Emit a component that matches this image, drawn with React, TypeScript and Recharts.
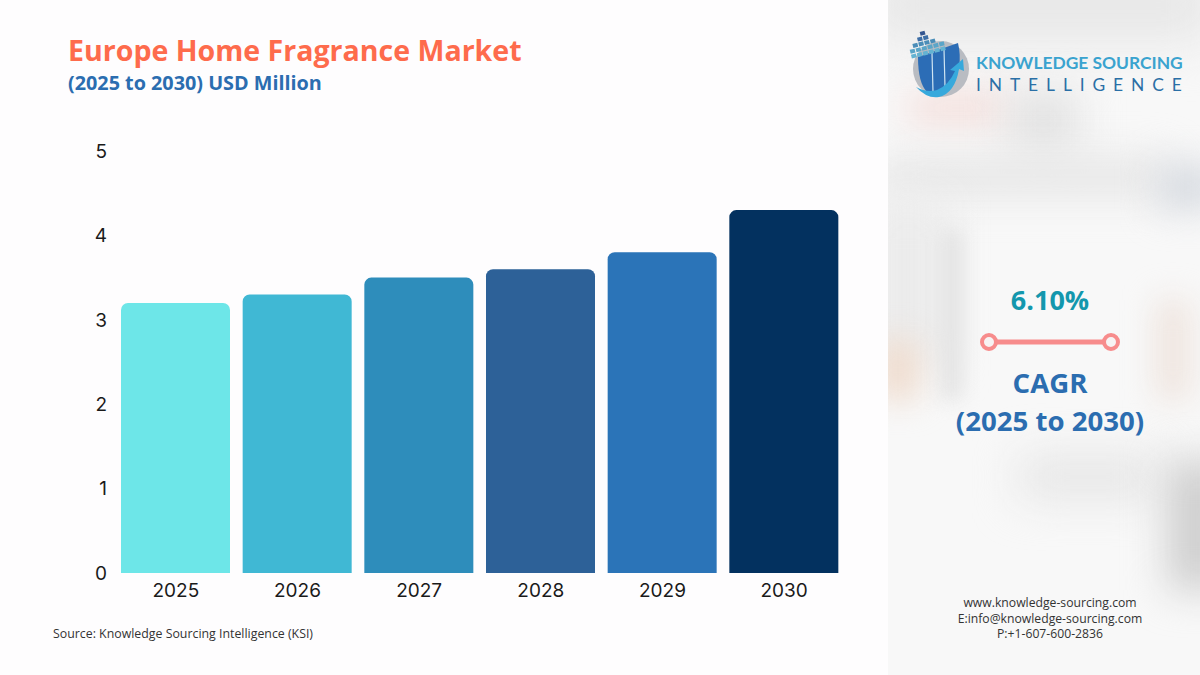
import { BarChart, Bar, Cell, XAxis, YAxis } from 'recharts';

const years = ['2025', '2026', '2027', '2028', '2029', '2030'];
const marketValues = [3.2, 3.3, 3.5, 3.6, 3.8, 4.3];
const barColors = ['#6de6e8', '#40b8d4', '#2e8dbb', '#2d6198', '#2b74b8', '#03315f'];
const yTicks = [0, 1, 2, 3, 4, 5];
const contactLines = ['www.knowledge-sourcing.com', 'E:info@knowledge-sourcing.com', 'P:+1-607-600-2836'];

const chartData = years.map((year, i) => ({ year, value: marketValues[i] }));

const FONT = '"Open Sans", "Noto Sans", sans-serif';
const TICK_FONT = 'Inter, "Open Sans", sans-serif';

function SidePanel() {
  const blobs = [
    { left: -20, top: -30, width: 350, height: 70, background: '#e6e6e6', blur: 26 },
    { left: 20, top: 95, width: 100, height: 26, background: '#f3d9d5', blur: 18 },
    { left: 120, top: 90, width: 70, height: 60, background: '#e2e2e2', blur: 20 },
    { left: -10, top: 160, width: 290, height: 34, background: '#e4e4e4', blur: 20 },
    { left: 270, top: 165, width: 60, height: 44, background: '#d6dae0', blur: 18 },
    { left: -20, top: 200, width: 80, height: 170, background: '#ebebeb', blur: 20 },
    { left: 55, top: 230, width: 18, height: 170, background: '#e0e0e0', blur: 10 },
    { left: -10, top: 340, width: 40, height: 60, background: '#f0dccd', blur: 16 },
    { left: 270, top: 300, width: 30, height: 100, background: '#ede1da', blur: 16 },
    { left: 130, top: 455, width: 140, height: 44, background: '#e6e6e6', blur: 22 },
    { left: 280, top: 460, width: 60, height: 130, background: '#cdcdcd', blur: 20 },
  ];
  return (
    <div style={{ position: 'absolute', left: 888, top: 0, width: 312, height: 675, overflow: 'hidden', background: '#f8f8f8' }}>
      {blobs.map(({ blur, ...b }, i) => (
        <div key={i} style={{ position: 'absolute', ...b, filter: `blur(${blur}px)` }} />
      ))}
    </div>
  );
}

const cubeRows = [
  { x: 18, y: 6, count: 1, fill: '#34558f' },
  { x: 14, y: 11, count: 2, fill: '#3d6ea6' },
  { x: 8, y: 16, count: 4, fill: '#4a8db8' },
  { x: 4, y: 21, count: 6, fill: '#5aa5c8' },
  { x: 4, y: 26, count: 6, fill: '#64b3d2' },
];

function Logo() {
  return (
    <svg style={{ position: 'absolute', left: 905, top: 25 }} width={90} height={78} viewBox="0 0 90 78">
      <circle cx="36" cy="44" r="28" fill="#b9bcc2" />
      <path d="M13 32 L53 18 Q59 44 45 60 Q36 68 22 67 Q13 58 13 32 Z" fill="#2c6db6" />
      <path d="M27 28 L28 67 M39 24 L40 62" stroke="#cfe4f2" strokeWidth={1.2} fill="none" />
      <g transform="rotate(-14 20 20)">
        {cubeRows.map((row) =>
          Array.from({ length: row.count }, (_, k) => (
            <rect key={`${row.y}-${k}`} x={row.x + k * 6} y={row.y} width={5} height={4} fill={row.fill} />
          )),
        )}
      </g>
      <path d="M11 62 Q22 74 34 72 Q50 68 54 44 L59 46 L58 34 L45 45 L50 46 Q44 60 32 65 Q22 68 11 62 Z" fill="#37a9dc" />
    </svg>
  );
}

export default function App() {
  return (
    <div style={{ position: 'absolute', left: 0, top: 0, width: 1200, height: 675, overflow: 'hidden', background: '#fefdfe' }}>
      <SidePanel />

      <BarChart
        width={888}
        height={675}
        data={chartData}
        margin={{ top: 151, right: 43, bottom: 72, left: 50 }}
        style={{ position: 'absolute', left: 0, top: 0 }}
      >
        <XAxis
          dataKey="year"
          height={30}
          axisLine={false}
          tickLine={false}
          tickMargin={5}
          tick={{ fontFamily: TICK_FONT, fontSize: 19, fill: '#1a1a1a' }}
        />
        <YAxis
          domain={[0, 5]}
          ticks={yTicks}
          width={65}
          axisLine={false}
          tickLine={false}
          tickMargin={2}
          tick={{ fontFamily: TICK_FONT, fontSize: 19, fill: '#1a1a1a' }}
        />
        <Bar dataKey="value" barSize={109} radius={[7, 7, 0, 0]} isAnimationActive={false}>
          {chartData.map((d, i) => (
            <Cell key={d.year} fill={barColors[i]} />
          ))}
        </Bar>
      </BarChart>

      <div style={{ position: 'absolute', left: 68, top: 30, fontFamily: FONT, fontWeight: 700, fontSize: 28.55, lineHeight: '40px', color: '#fe6b4c', whiteSpace: 'nowrap' }}>
        Europe Home Fragrance Market
      </div>
      <div style={{ position: 'absolute', left: 68, top: 69, fontFamily: FONT, fontWeight: 700, fontSize: 19.8, lineHeight: '28px', color: '#2b6db0', whiteSpace: 'nowrap' }}>
        (2025 to 2030) USD Million
      </div>
      <div style={{ position: 'absolute', left: 53, top: 625, fontFamily: FONT, fontSize: 12.35, lineHeight: '18px', color: '#333', whiteSpace: 'nowrap' }}>
        Source: Knowledge Sourcing Intelligence (KSI)
      </div>

      <Logo />
      <div style={{ position: 'absolute', left: 976, top: 52, fontFamily: 'Lato, sans-serif', fontWeight: 700, fontSize: 17.4, lineHeight: '21px', color: '#3aa3cf', whiteSpace: 'nowrap' }}>
        KNOWLEDGE SOURCING
      </div>
      <div style={{ position: 'absolute', left: 976, top: 74, fontFamily: 'Lato, sans-serif', fontSize: 17.4, lineHeight: '21px', letterSpacing: 7.9, color: '#2a6fa6', whiteSpace: 'nowrap' }}>
        INTELLIGENCE
      </div>

      <div style={{ position: 'absolute', left: 900, width: 300, top: 282, textAlign: 'center', fontFamily: FONT, fontWeight: 700, fontSize: 27, lineHeight: '36px', color: '#1397ad' }}>
        6.10%
      </div>
      <svg style={{ position: 'absolute', left: 975, top: 328 }} width={150} height={28}>
        <line x1={22} y1={14} x2={128} y2={14} stroke="#f78c8c" strokeWidth={5} />
        <circle cx={14} cy={14} r={7} fill="#f7f3f3" stroke="#f78c8c" strokeWidth={4} />
        <circle cx={136} cy={14} r={7} fill="#f7f3f3" stroke="#f78c8c" strokeWidth={4} />
      </svg>
      <div style={{ position: 'absolute', left: 900, width: 300, top: 363, textAlign: 'center', fontFamily: FONT, fontWeight: 700, fontSize: 27.6, lineHeight: '38px', color: '#2b6db0' }}>
        CAGR
        <br />
        (2025 to 2030)
      </div>

      <div style={{ position: 'absolute', left: 900, width: 300, top: 595, textAlign: 'center', fontFamily: FONT, fontSize: 12.2, lineHeight: '15.5px', color: '#333' }}>
        {contactLines.map((line) => (
          <div key={line}>{line}</div>
        ))}
      </div>
    </div>
  );
}
